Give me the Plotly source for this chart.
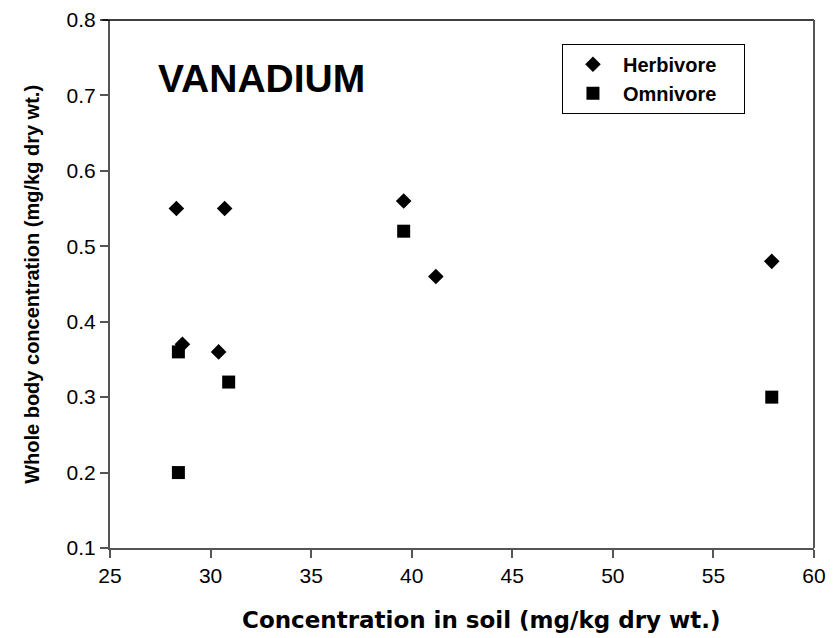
import plotly.graph_objects as go

herb_x = [28.3, 30.7, 39.6, 41.2, 57.9, 28.6, 30.4]
herb_y = [0.55, 0.55, 0.56, 0.46, 0.48, 0.37, 0.36]
omni_x = [39.6, 28.4, 30.9, 28.4, 57.9]
omni_y = [0.52, 0.36, 0.32, 0.20, 0.30]
x_ticks = [25, 30, 35, 40, 45, 50, 55, 60]
y_ticks = [0.1, 0.2, 0.3, 0.4, 0.5, 0.6, 0.7, 0.8]
series_names = ["Herbivore", "Omnivore"]

pad = "\u00a0" * 4
fig = go.Figure()
fig.add_trace(go.Scatter(x=herb_x, y=herb_y, mode="markers", name=series_names[0] + pad,
                         marker=dict(symbol="diamond", size=12, color="black")))
fig.add_trace(go.Scatter(x=omni_x, y=omni_y, mode="markers", name=series_names[1] + pad,
                         marker=dict(symbol="square", size=13, color="black")))

axis_col = "#555555"
fig.update_layout(
    width=831, height=630,
    margin=dict(l=102, r=25, t=12, b=90),
    paper_bgcolor="white", plot_bgcolor="white",
    font=dict(family="Liberation Sans, Arial", color="black", size=19),
    showlegend=True,
    legend=dict(x=0.642, y=0.955, xanchor="left", yanchor="top",
                bordercolor="black", borderwidth=1, bgcolor="white",
                font=dict(size=20, family="Liberation Sans, Arial", weight="bold"),
                itemwidth=50, tracegroupgap=0),
    xaxis=dict(range=[25, 60], tickvals=x_ticks, ticktext=[str(v) for v in x_ticks],
               showgrid=False, zeroline=False, showline=True, linecolor=axis_col, linewidth=2,
               ticks="outside", ticklen=8, tickwidth=2, tickcolor=axis_col,
               tickfont=dict(size=21), automargin=False),
    yaxis=dict(range=[0.1, 0.8], tickvals=y_ticks, ticktext=["%.1f" % v for v in y_ticks],
               showgrid=False, zeroline=False, showline=True, linecolor=axis_col, linewidth=2,
               ticks="outside", ticklen=8, tickwidth=2, tickcolor=axis_col,
               tickfont=dict(size=21), automargin=False),
    shapes=[
        dict(type="line", xref="paper", yref="paper", x0=-0.011, x1=1, y0=1, y1=1,
             line=dict(color="black", width=1.5)),
        dict(type="line", xref="paper", yref="paper", x0=1, x1=1, y0=0, y1=1,
             line=dict(color=axis_col, width=2)),
    ],
    annotations=[
        dict(text="<b>VANADIUM</b>", xref="paper", yref="paper", x=0.065, y=0.89,
             xanchor="left", yanchor="middle", showarrow=False,
             font=dict(size=39, family="Liberation Sans, Arial", color="black")),
        dict(text="<b>Concentration in soil (mg/kg dry wt.)</b>", xref="paper", yref="paper",
             x=0.527, y=-0.136, xanchor="center", yanchor="middle", showarrow=False,
             font=dict(size=23, family="DejaVu Sans", color="black")),
        dict(text="<b>Whole body concentration (mg/kg dry wt.)</b>", xref="paper", yref="paper",
             x=-0.111, y=0.5, xanchor="center", yanchor="middle", showarrow=False,
             textangle=-90,
             font=dict(size=20, family="Liberation Sans, Arial", color="black")),
    ],
)

fig.write_html("out.html")
